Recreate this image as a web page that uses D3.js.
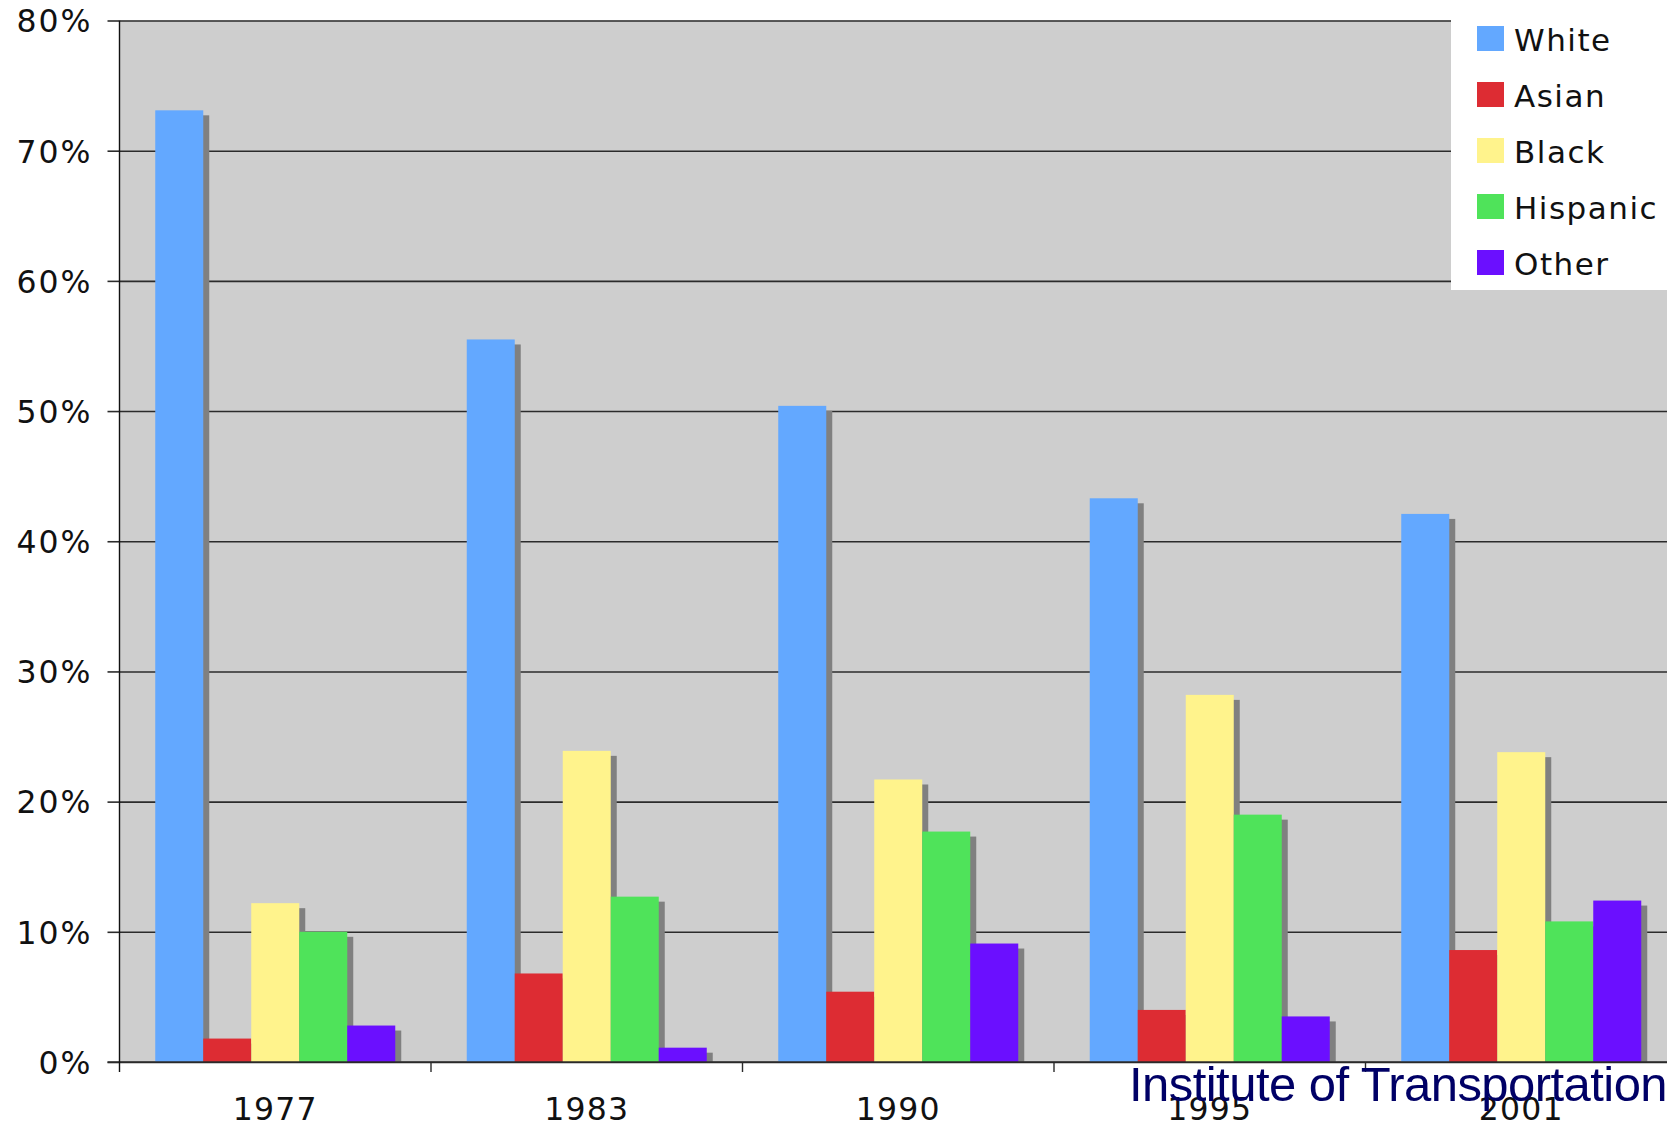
<!DOCTYPE html>
<html>
<head>
<meta charset="utf-8">
<script src="https://cdn.jsdelivr.net/npm/d3@7/dist/d3.min.js"></script>
<style>
  html, body { margin: 0; padding: 0; background: #ffffff; overflow: hidden; }
  svg { display: block; }
</style>
</head>
<body>
<svg id="chart" width="1667" height="1125"></svg>
<script>
// Share of trips by race / ethnicity, survey years 1977–2001 (percent)
const years = ["1977", "1983", "1990", "1995", "2001"];
const groups = ["White", "Asian", "Black", "Hispanic", "Other"];
const white    = [73.1, 55.5, 50.4, 43.3, 42.1];
const asian    = [1.8, 6.8, 5.4, 4.0, 8.6];
const black    = [12.2, 23.9, 21.7, 28.2, 23.8];
const hispanic = [10.0, 12.7, 17.7, 19.0, 10.8];
const other    = [2.8, 1.1, 9.1, 3.5, 12.4];
const yTicks   = [0, 10, 20, 30, 40, 50, 60, 70, 80];
const colors   = ["#63a8ff", "#dd2c33", "#fff38c", "#4fe35a", "#6b0fff"];

const seriesValues = [white, asian, black, hispanic, other];
const rows = years.map((yr, i) => ({
  year: yr,
  values: groups.map((g, j) => ({ group: g, value: seriesValues[j][i] }))
}));

const W = 1667, H = 1125;
const plotLeft = 119.5, plotTop = 20.5, plotBottom = 1062;
const step = 311.5;

const svg = d3.select("#chart");

const x0 = d3.scaleBand().domain(years).range([plotLeft, plotLeft + step * years.length]).padding(0);
const inset = 35.75;
const x1 = d3.scaleBand().domain(groups).range([inset, x0.bandwidth() - inset]).padding(0);
const y = d3.scaleLinear().domain([0, 80]).range([plotBottom, plotTop]);
const color = d3.scaleOrdinal().domain(groups).range(colors);

// plot area
svg.append("rect")
  .attr("x", plotLeft).attr("y", plotTop)
  .attr("width", W - plotLeft).attr("height", plotBottom - plotTop)
  .attr("fill", "#cecece");

svg.append("defs").append("clipPath").attr("id", "plotClip")
  .append("rect").attr("x", plotLeft).attr("y", 0).attr("width", W).attr("height", plotBottom);

// horizontal gridlines with ticks and labels
const yAxis = svg.append("g")
  .attr("transform", `translate(${plotLeft},0)`)
  .call(d3.axisLeft(y).tickValues(yTicks).tickSize(12).tickPadding(15).tickFormat(d => d + "%"));
yAxis.select(".domain").remove();
yAxis.selectAll(".tick line").attr("stroke", "#2b2b2b").attr("stroke-width", 1.6);
yAxis.selectAll(".tick").append("line")
  .attr("x1", 0).attr("x2", W - plotLeft)
  .attr("stroke", "#2b2b2b").attr("stroke-width", 1.6);
yAxis.selectAll(".tick text")
  .attr("font-family", "'DejaVu Sans', Verdana, sans-serif")
  .attr("font-size", 31.5)
  .attr("letter-spacing", "2px")
  .attr("fill", "#111")
  .attr("dy", "0.36em");

// bars with drop shadows
const barsG = svg.append("g").attr("clip-path", "url(#plotClip)");
const groupSel = barsG.selectAll("g.grp").data(rows).join("g")
  .attr("class", "grp")
  .attr("transform", d => `translate(${x0(d.year)},0)`);

groupSel.selectAll("rect.shadow").data(d => d.values).join("rect")
  .attr("class", "shadow")
  .attr("x", d => x1(d.group) + 6)
  .attr("y", d => y(d.value) + 5)
  .attr("width", x1.bandwidth())
  .attr("height", d => plotBottom - y(d.value))
  .attr("fill", "#808080");

groupSel.selectAll("rect.bar").data(d => d.values).join("rect")
  .attr("class", "bar")
  .attr("x", d => x1(d.group))
  .attr("y", d => y(d.value))
  .attr("width", x1.bandwidth())
  .attr("height", d => plotBottom - y(d.value))
  .attr("fill", d => color(d.group));

// baseline, left axis and category boundary ticks
svg.append("line")
  .attr("x1", plotLeft - 12).attr("x2", W)
  .attr("y1", plotBottom).attr("y2", plotBottom)
  .attr("stroke", "#2b2b2b").attr("stroke-width", 1.6);
svg.append("line")
  .attr("x1", plotLeft).attr("x2", plotLeft)
  .attr("y1", plotTop).attr("y2", plotBottom + 10)
  .attr("stroke", "#111").attr("stroke-width", 1.4);
svg.append("g").selectAll("line").data(years.slice(1)).join("line")
  .attr("x1", d => x0(d)).attr("x2", d => x0(d))
  .attr("y1", plotBottom).attr("y2", plotBottom + 10)
  .attr("stroke", "#2b2b2b").attr("stroke-width", 1.4);

// category labels
const xAxis = svg.append("g")
  .attr("transform", `translate(0,${plotBottom})`)
  .call(d3.axisBottom(x0).tickSize(0).tickPadding(0));
xAxis.select(".domain").remove();
xAxis.selectAll(".tick text")
  .attr("font-family", "'DejaVu Sans', Verdana, sans-serif")
  .attr("font-size", 31.5)
  .attr("letter-spacing", "1.2px")
  .attr("fill", "#111")
  .attr("dy", null)
  .attr("y", 58);

// legend
const legend = svg.append("g");
legend.append("rect")
  .attr("x", 1451).attr("y", -2)
  .attr("width", W - 1451 + 2).attr("height", 292)
  .attr("fill", "#ffffff");
const item = legend.selectAll("g.item").data(groups).join("g")
  .attr("class", "item")
  .attr("transform", (d, i) => `translate(1477,${26 + i * 56})`);
item.append("rect")
  .attr("width", 27).attr("height", 25)
  .attr("fill", d => color(d));
item.append("text")
  .attr("x", 37).attr("y", 25)
  .attr("font-family", "'DejaVu Sans', Verdana, sans-serif")
  .attr("font-size", 31)
  .attr("letter-spacing", "1.5px")
  .attr("fill", "#111")
  .text(d => d);

// source credit
svg.append("text")
  .attr("x", 1129).attr("y", 1101)
  .attr("font-family", "'Liberation Sans', Arial, sans-serif")
  .attr("font-size", 49)
  .attr("letter-spacing", "-0.55px")
  .attr("fill", "#000066")
  .text("Institute of Transportation");
</script>
</body>
</html>
